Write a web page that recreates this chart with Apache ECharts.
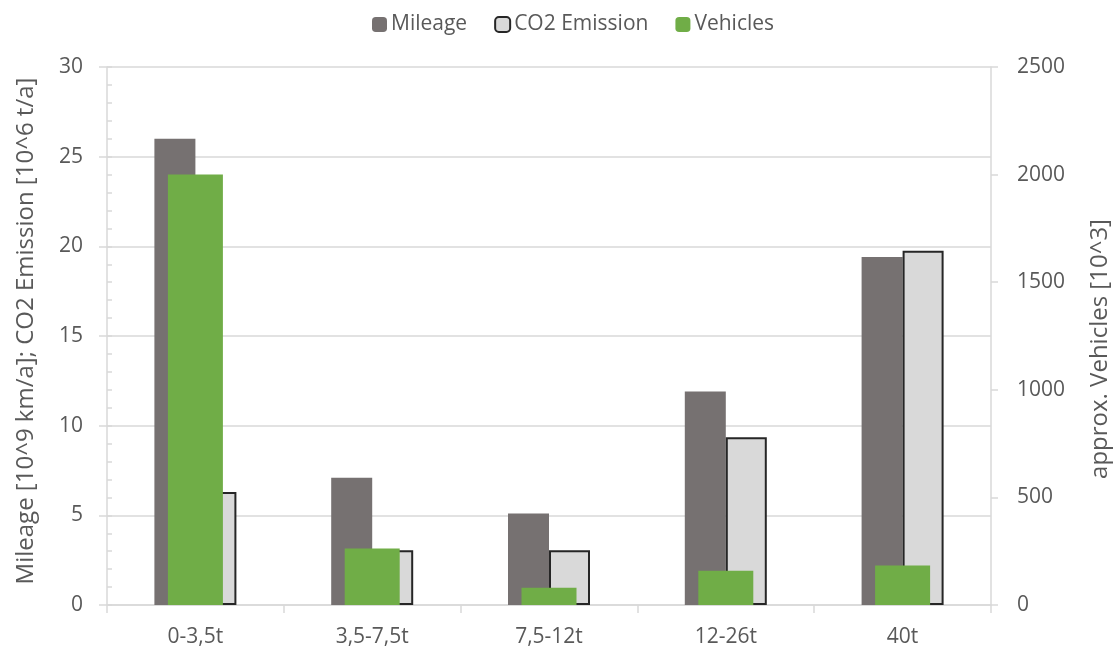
<!DOCTYPE html>
<html>
<head>
<meta charset="utf-8">
<script src="https://cdn.jsdelivr.net/npm/echarts@6/dist/echarts.min.js"></script>
<style>
html,body{margin:0;padding:0;background:#fff;}
#chart{width:1120px;height:651px;}
</style>
</head>
<body>
<div id="chart"></div>
<script>
const categories = ['0-3,5t', '3,5-7,5t', '7,5-12t', '12-26t', '40t'];
const mileage = [26.0, 7.1, 5.1, 11.9, 19.4];
const co2Emission = [6.3, 3.05, 3.05, 9.35, 19.75];
const vehicles = [2000, 263, 80, 159, 184];
const leftTicks = { min: 0, max: 30, interval: 5 };
const rightTicks = { min: 0, max: 2500, interval: 500 };

const FONT = 'Open Sans';
const TXT = '#595959';
const GRID = '#d9d9d9';
const FS = 21;
const TFS = 24;

const chart = echarts.init(document.getElementById('chart'), null, { renderer: 'canvas' });
chart.setOption({
  animation: false,
  backgroundColor: '#fff',
  textStyle: { fontFamily: FONT, color: TXT },
  legend: {
    top: 9,
    left: 367,
    itemWidth: 15,
    itemHeight: 15,
    itemGap: 27,
    textStyle: { fontFamily: FONT, fontSize: FS, color: TXT, padding: [0, 0, 0, -1] },
    data: ['Mileage', 'CO2 Emission', 'Vehicles']
  },
  grid: { left: 107, right: 126, top: 67, bottom: 46, containLabel: false },
  xAxis: [
    {
      type: 'category',
      data: categories,
      axisLine: { lineStyle: { color: GRID, width: 1.5 } },
      axisTick: { show: true, length: 8, lineStyle: { color: GRID, width: 1.5 } },
      axisLabel: { fontFamily: FONT, fontSize: FS, color: TXT, margin: 22 }
    },
    {
      type: 'category',
      data: categories,
      show: false
    }
  ],
  yAxis: [
    {
      type: 'value',
      position: 'left',
      min: leftTicks.min, max: leftTicks.max, interval: leftTicks.interval,
      name: 'Mileage [10^9 km/a]; CO2 Emission [10^6 t/a]',
      nameLocation: 'middle',
      nameGap: 69,
      nameTextStyle: { fontFamily: FONT, fontSize: TFS, color: TXT, padding: [0, 0, 0, 10] },
      axisLine: { show: true, lineStyle: { color: GRID, width: 1.5 } },
      axisTick: { show: true, length: 8, lineStyle: { color: GRID, width: 1.5 } },
      axisLabel: { fontFamily: FONT, fontSize: FS, color: TXT, margin: 24 },
      splitLine: { show: true, lineStyle: { color: GRID, width: 1.5 } }
    },
    {
      type: 'value',
      position: 'right',
      min: rightTicks.min, max: rightTicks.max, interval: rightTicks.interval,
      name: 'approx. Vehicles [10^3]',
      nameLocation: 'middle',
      nameGap: 97,
      nameTextStyle: { fontFamily: FONT, fontSize: TFS, color: TXT, padding: [0, 26, 0, 0] },
      axisLine: { show: true, lineStyle: { color: GRID, width: 1.5 } },
      axisTick: { show: true, length: 7, lineStyle: { color: GRID, width: 1.5 } },
      axisLabel: { fontFamily: FONT, fontSize: FS, color: TXT, margin: 26, formatter: v => String(v) },
      splitLine: { show: false }
    },
    {
      type: 'value',
      position: 'left',
      min: 0, max: 30, interval: 1,
      axisLine: { show: false },
      axisTick: { show: true, inside: true, length: 5, lineStyle: { color: GRID, width: 1.5 } },
      axisLabel: { show: false },
      splitLine: { show: false }
    }
  ],
  series: [
    {
      name: 'Mileage',
      type: 'bar',
      xAxisIndex: 0,
      yAxisIndex: 0,
      data: mileage,
      barWidth: 41,
      barGap: '0%',
      itemStyle: { color: '#767171' },
      z: 2
    },
    {
      name: 'CO2 Emission',
      type: 'bar',
      xAxisIndex: 0,
      yAxisIndex: 0,
      data: co2Emission,
      barWidth: 41,
      barGap: '0%',
      itemStyle: { color: '#d9d9d9', borderColor: '#262626', borderWidth: 2 },
      z: 2
    },
    {
      name: 'Vehicles',
      type: 'bar',
      xAxisIndex: 1,
      yAxisIndex: 1,
      data: vehicles,
      barWidth: 55,
      itemStyle: { color: '#70ad47' },
      z: 3
    }
  ]
});
</script>
</body>
</html>
